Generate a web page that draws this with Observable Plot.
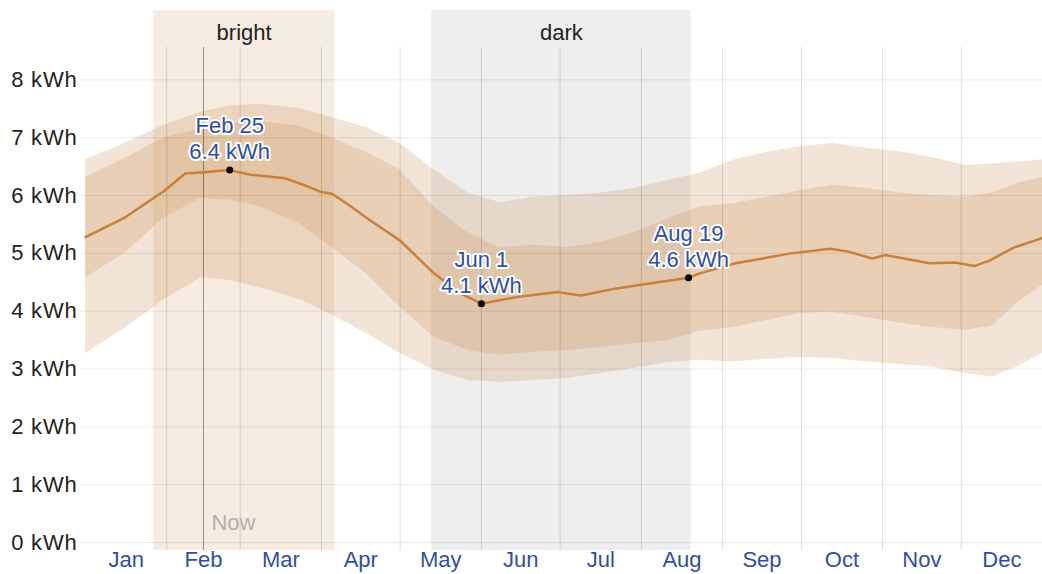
<!DOCTYPE html>
<html>
<head>
<meta charset="utf-8">
<script src="https://cdn.jsdelivr.net/npm/d3@7"></script>
<script src="https://cdn.jsdelivr.net/npm/@observablehq/plot@0.6"></script>
<style>
html, body { margin: 0; padding: 0; background: #fff; }
#chart svg { display: block; }
g[aria-label="y-axis tick label"] text { letter-spacing: 0.8px; }
g[aria-label="annotation"] text { letter-spacing: 0.8px; }
g[aria-label="period label"] text { letter-spacing: 0.8px; }
</style>
</head>
<body>
<div id="chart"></div>
<script>
// ---- data ----
const months = ["Jan", "Feb", "Mar", "Apr", "May", "Jun", "Jul", "Aug", "Sep", "Oct", "Nov", "Dec"];
const yTicks = [0, 1, 2, 3, 4, 5, 6, 7, 8];

const bandDates = ["2023-01-01", "2023-01-16", "2023-01-31", "2023-02-14", "2023-02-25", "2023-03-09",
  "2023-03-24", "2023-04-05", "2023-04-18", "2023-05-01", "2023-05-14", "2023-05-27", "2023-06-08",
  "2023-06-21", "2023-07-04", "2023-07-16", "2023-07-29", "2023-08-11", "2023-08-23", "2023-09-05",
  "2023-09-18", "2023-09-30", "2023-10-13", "2023-10-26", "2023-11-07", "2023-11-20", "2023-12-03",
  "2023-12-13", "2023-12-22", "2024-01-01"];
const p90 = [6.62, 6.90, 7.22, 7.44, 7.55, 7.58, 7.50, 7.35, 7.18, 6.90, 6.44, 6.04, 5.88, 5.97, 6.00,
  6.04, 6.12, 6.26, 6.38, 6.61, 6.75, 6.84, 6.90, 6.82, 6.76, 6.66, 6.52, 6.55, 6.58, 6.62];
const p75 = [6.31, 6.64, 7.00, 7.15, 7.25, 7.27, 7.20, 7.00, 6.75, 6.44, 5.80, 5.35, 5.10, 5.14, 5.10,
  5.19, 5.35, 5.60, 5.80, 5.86, 5.97, 6.08, 6.18, 6.12, 6.05, 6.00, 5.97, 6.05, 6.21, 6.31];
const p25 = [4.58, 5.00, 5.62, 5.95, 5.92, 5.80, 5.50, 5.10, 4.65, 4.07, 3.55, 3.32, 3.24, 3.29, 3.32,
  3.37, 3.44, 3.49, 3.65, 3.72, 3.84, 3.96, 3.98, 3.89, 3.80, 3.72, 3.67, 3.75, 4.13, 4.45];
const p10 = [3.27, 3.70, 4.20, 4.58, 4.53, 4.40, 4.20, 3.93, 3.62, 3.27, 2.98, 2.80, 2.77, 2.80, 2.84,
  2.92, 3.01, 3.11, 3.15, 3.12, 3.17, 3.20, 3.18, 3.12, 3.08, 3.03, 2.92, 2.86, 3.03, 3.27];

const medianDates = ["2023-01-01", "2023-01-16", "2023-01-31", "2023-02-08", "2023-02-14", "2023-02-25",
  "2023-03-05", "2023-03-18", "2023-03-26", "2023-04-01", "2023-04-05", "2023-04-12", "2023-04-18",
  "2023-05-01", "2023-05-14", "2023-05-24", "2023-06-01", "2023-06-14", "2023-06-30", "2023-07-09",
  "2023-07-22", "2023-08-04", "2023-08-19", "2023-08-23", "2023-09-06", "2023-09-27", "2023-10-12",
  "2023-10-19", "2023-10-28", "2023-11-02", "2023-11-19", "2023-11-29", "2023-12-06", "2023-12-12",
  "2023-12-21", "2023-12-31", "2024-01-01"];
const median = [5.28, 5.62, 6.08, 6.38, 6.40, 6.44, 6.36, 6.30, 6.17, 6.06, 6.03, 5.82, 5.62, 5.22,
  4.65, 4.31, 4.13, 4.24, 4.33, 4.27, 4.39, 4.48, 4.58, 4.65, 4.83, 5.00, 5.08, 5.03, 4.91, 4.97, 4.83,
  4.84, 4.78, 4.88, 5.10, 5.25, 5.27];

const annotationDates = ["2023-02-25", "2023-06-01", "2023-08-19"];
const annotationValues = [6.44, 4.13, 4.58];
const annotationTitles = ["Feb 25", "Jun 1", "Aug 19"];
const annotationTexts = ["6.4 kWh", "4.1 kWh", "4.6 kWh"];

const periodNames = ["bright", "dark"];
const periodStarts = ["2023-01-27", "2023-05-13"];
const periodEnds = ["2023-04-06", "2023-08-20"];
const periodFills = ["#f7ece1", "#eeeeee"];

const nowDate = "2023-02-15";
const yearStart = "2023-01-01";
const yearEnd = "2024-01-01";

// ---- build ----
const parse = s => new Date(s + "T00:00:00Z");
const bands = bandDates.map((d, i) => ({date: parse(d), p10: p10[i], p25: p25[i], p75: p75[i], p90: p90[i]}));
const med = medianDates.map((d, i) => ({date: parse(d), v: median[i]}));
const ann = annotationDates.map((d, i) => ({date: parse(d), v: annotationValues[i], t: annotationTitles[i], s: annotationTexts[i]}));
const periods = periodNames.map((n, i) => ({name: n, start: parse(periodStarts[i]), end: parse(periodEnds[i]), fill: periodFills[i]}));
const y0 = parse(yearStart), y1 = parse(yearEnd);
const monthStarts = d3.utcMonths(d3.utcMonth.offset(y0, 1), y1);
const monthMids = months.map((m, i) => {
  const a = d3.utcMonth.offset(y0, i), b = d3.utcMonth.offset(y0, i + 1);
  return new Date((+a + +b) / 2);
});
const gridStart = d3.utcDay.offset(y0, -2);

const bandColor = "#c88c50";
const labelBlue = "#2f4fa2";

const chart = Plot.plot({
  width: 1042,
  height: 574,
  marginLeft: 85,
  marginRight: 0,
  marginTop: 10,
  marginBottom: 32,
  x: {type: "utc", domain: [y0, y1]},
  y: {domain: [0, 9.2]},
  style: {fontFamily: "'Liberation Sans', Arial, sans-serif", fontSize: "22px", background: "#fff", overflow: "visible"},
  marks: [
    ...periods.map(p => Plot.rect([p], {x1: "start", x2: "end", y1: -0.14, y2: 9.2, fill: p.fill})),
    Plot.areaY(bands, {x: "date", y1: "p10", y2: "p90", fill: bandColor, fillOpacity: 0.235}),
    Plot.areaY(bands, {x: "date", y1: "p25", y2: "p75", fill: bandColor, fillOpacity: 0.235}),
    Plot.ruleY(yTicks, {x1: gridStart, x2: y1, stroke: "#000", strokeOpacity: 0.08}),
    Plot.ruleX(monthStarts, {y1: -0.14, y2: 8.56, stroke: "#000", strokeOpacity: 0.14}),
    Plot.ruleX([parse(nowDate)], {y1: -0.14, y2: 8.56, stroke: "#000", strokeOpacity: 0.4}),
    Plot.line(med, {x: "date", y: "v", stroke: "#c8803a", strokeWidth: 2.5}),
    Plot.dot(ann, {x: "date", y: "v", r: 3.5, fill: "#000"}),
    Plot.text(ann, {x: "date", y: "v", text: "t", dy: -44, fill: labelBlue, stroke: "#fff", strokeWidth: 4, fontSize: 22, ariaLabel: "annotation"}),
    Plot.text(ann, {x: "date", y: "v", text: "s", dy: -18, fill: labelBlue, stroke: "#fff", strokeWidth: 4, fontSize: 22, ariaLabel: "annotation"}),
    Plot.text(periods, {x: d => new Date((+d.start + +d.end) / 2), y: 8.82, text: "name", fill: "#222", fontSize: 22, ariaLabel: "period label"}),
    Plot.text([nowDate], {x: d => parse(d), y: 0.33, text: () => "Now", textAnchor: "start", dx: 8, fill: "#b0b0b0", fontSize: 22}),
    Plot.axisY(yTicks, {tickSize: 0, tickPadding: 8, tickFormat: d => `${d} kWh`, fill: "#222", fontSize: 22}),
    Plot.axisX(monthMids, {tickSize: 0, tickPadding: 9, tickFormat: d => months[d.getUTCMonth()], fill: labelBlue, fontSize: 22})
  ]
});
document.getElementById("chart").appendChild(chart);
</script>
</body>
</html>
